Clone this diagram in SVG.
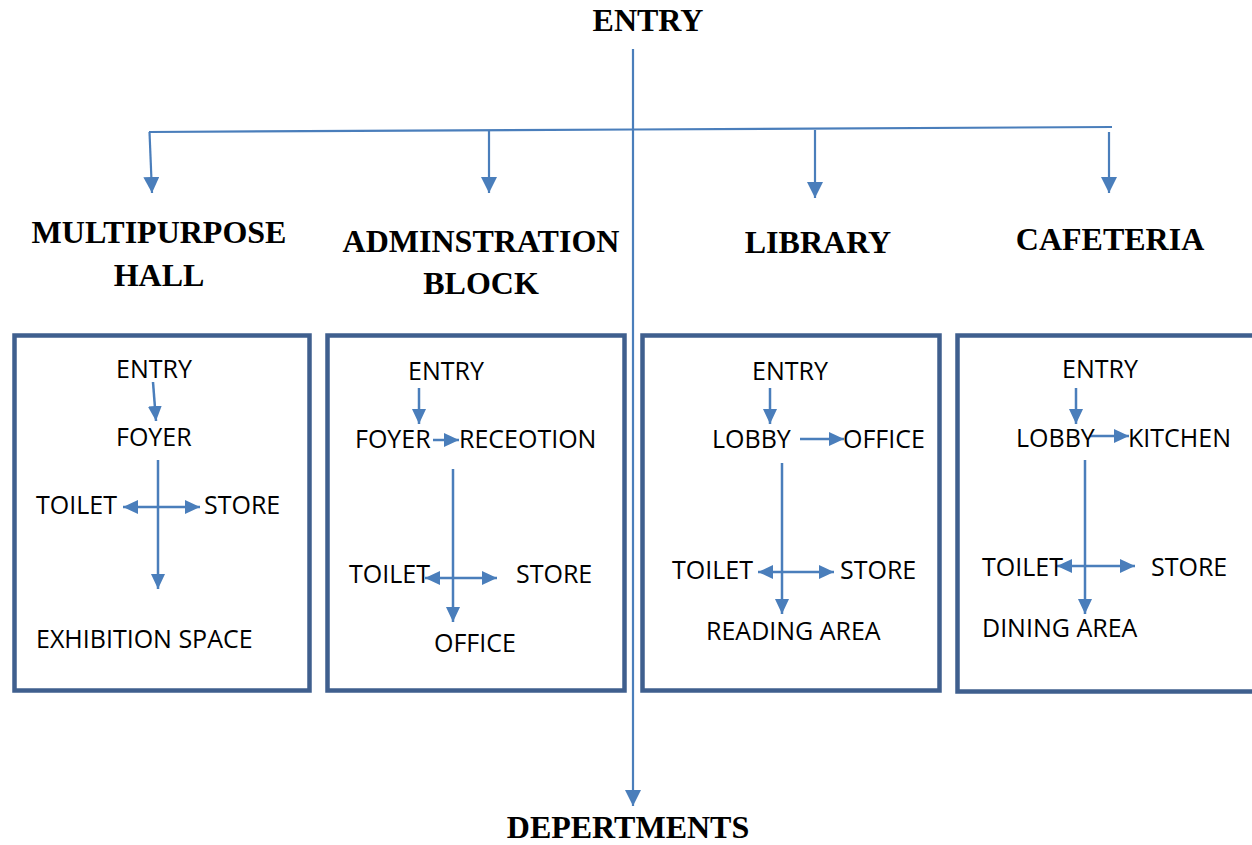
<svg xmlns="http://www.w3.org/2000/svg" width="1252" height="845" viewBox="0 0 1252 845">
  <style>
    .title { font-family: "Liberation Serif", "Times New Roman", serif; font-weight: bold; font-size: 32px; fill: #000; text-anchor: middle; }
    .room { font-family: "Open Sans", "Liberation Sans", sans-serif; font-size: 25px; fill: #000; }
    .box { fill: #fff; stroke: #3F5F8E; stroke-width: 4.5; }
    .link { fill: none; stroke: #4A7EBB; stroke-width: 2.5; }
    .trunk { fill: none; stroke: #4A7EBB; stroke-width: 2.2; }
  </style>
  <defs>
    <marker id="head" markerUnits="userSpaceOnUse" markerWidth="15" markerHeight="14" refX="15" refY="7" orient="auto-start-reverse">
      <path d="M0,0 L15,7 L0,14 z" fill="#4A7EBB"/>
    </marker>
    <marker id="headLg" markerUnits="userSpaceOnUse" markerWidth="16" markerHeight="16" refX="16" refY="8" orient="auto">
      <path d="M0,0 L16,8 L0,16 z" fill="#4A7EBB"/>
    </marker>
  </defs>

  <rect width="1252" height="845" fill="#fff"/>

  <!-- department boxes -->
  <g id="box-multipurpose"><rect class="box" x="14.5" y="335.5" width="295" height="355"/></g>
  <g id="box-administration"><rect class="box" x="327.5" y="335.5" width="297" height="355"/></g>
  <g id="box-library"><rect class="box" x="642.5" y="335.5" width="297" height="355"/></g>
  <g id="box-cafeteria"><rect class="box" x="957.5" y="335.5" width="300" height="356"/></g>

  <!-- connectors -->
  <g id="connectors">
    <line class="trunk" x1="633" y1="49" x2="633" y2="806" marker-end="url(#headLg)"/>
    <polyline class="trunk" points="149,132 633,129.5 1112,127"/>
    <line class="trunk" x1="149.5" y1="132" x2="152" y2="193" marker-end="url(#headLg)"/>
    <line class="trunk" x1="489" y1="131" x2="489" y2="193" marker-end="url(#headLg)"/>
    <line class="trunk" x1="815" y1="130" x2="815" y2="198" marker-end="url(#headLg)"/>
    <line class="trunk" x1="1109" y1="132" x2="1109" y2="193" marker-end="url(#headLg)"/>

    <!-- multipurpose hall -->
    <line class="link" x1="153" y1="382" x2="156" y2="421" marker-end="url(#head)"/>
    <line class="link" x1="158" y1="460" x2="158" y2="589" marker-end="url(#head)"/>
    <line class="link" x1="123" y1="507" x2="200" y2="507" marker-start="url(#head)" marker-end="url(#head)"/>

    <!-- administration block -->
    <line class="link" x1="419" y1="388" x2="419" y2="424" marker-end="url(#head)"/>
    <line class="link" x1="433" y1="440" x2="459" y2="440" marker-end="url(#head)"/>
    <line class="link" x1="453" y1="469" x2="453" y2="622" marker-end="url(#head)"/>
    <line class="link" x1="425" y1="578" x2="497" y2="578" marker-start="url(#head)" marker-end="url(#head)"/>

    <!-- library -->
    <line class="link" x1="770" y1="388" x2="770" y2="424" marker-end="url(#head)"/>
    <line class="link" x1="800" y1="439" x2="844" y2="439" marker-end="url(#head)"/>
    <line class="link" x1="782" y1="463" x2="782" y2="614" marker-end="url(#head)"/>
    <line class="link" x1="758" y1="572" x2="834" y2="572" marker-start="url(#head)" marker-end="url(#head)"/>

    <!-- cafeteria -->
    <line class="link" x1="1076" y1="388" x2="1076" y2="424" marker-end="url(#head)"/>
    <line class="link" x1="1090" y1="436" x2="1129" y2="436" marker-end="url(#head)"/>
    <line class="link" x1="1085" y1="460" x2="1085" y2="614" marker-end="url(#head)"/>
    <line class="link" x1="1057" y1="566" x2="1135" y2="566" marker-start="url(#head)" marker-end="url(#head)"/>
  </g>

  <!-- headings -->
  <g id="entry"><text class="title" x="648" y="31">ENTRY</text></g>
  <g id="multipurpose-hall">
    <text class="title" x="159" y="243">MULTIPURPOSE</text>
    <text class="title" x="159" y="286">HALL</text>
  </g>
  <g id="administration-block">
    <text class="title" x="481" y="252">ADMINSTRATION</text>
    <text class="title" x="481" y="294">BLOCK</text>
  </g>
  <g id="library"><text class="title" x="818" y="253">LIBRARY</text></g>
  <g id="cafeteria"><text class="title" x="1110" y="250">CAFETERIA</text></g>
  <g id="departments"><text class="title" x="628" y="838">DEPERTMENTS</text></g>

  <!-- rooms: multipurpose hall -->
  <g id="mph-rooms">
    <text class="room" x="116" y="378">ENTRY</text>
    <text class="room" x="116" y="446">FOYER</text>
    <text class="room" x="36" y="514">TOILET</text>
    <text class="room" x="204" y="514">STORE</text>
    <text class="room" x="36" y="648">EXHIBITION SPACE</text>
  </g>

  <!-- rooms: administration block -->
  <g id="admin-rooms">
    <text class="room" x="408" y="380">ENTRY</text>
    <text class="room" x="355" y="448">FOYER</text>
    <text class="room" x="459" y="448">RECEOTION</text>
    <text class="room" x="349" y="583">TOILET</text>
    <text class="room" x="516" y="583">STORE</text>
    <text class="room" x="434" y="652">OFFICE</text>
  </g>

  <!-- rooms: library -->
  <g id="library-rooms">
    <text class="room" x="752" y="380">ENTRY</text>
    <text class="room" x="712" y="448">LOBBY</text>
    <text class="room" x="843" y="448">OFFICE</text>
    <text class="room" x="672" y="579">TOILET</text>
    <text class="room" x="840" y="579">STORE</text>
    <text class="room" x="706" y="640">READING AREA</text>
  </g>

  <!-- rooms: cafeteria -->
  <g id="cafeteria-rooms">
    <text class="room" x="1062" y="378">ENTRY</text>
    <text class="room" x="1016" y="447">LOBBY</text>
    <text class="room" x="1128" y="447">KITCHEN</text>
    <text class="room" x="982" y="576">TOILET</text>
    <text class="room" x="1151" y="576">STORE</text>
    <text class="room" x="982" y="637">DINING AREA</text>
  </g>
</svg>
